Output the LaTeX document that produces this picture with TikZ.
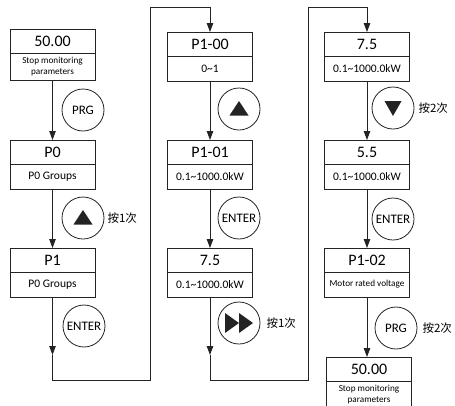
\documentclass[tikz,border=0pt]{standalone}
\usepackage{fontspec}
\setmainfont{Carlito}
\newfontfamily\cjk{Noto Sans CJK SC}
\usetikzlibrary{arrows.meta,positioning,calc}
\definecolor{inkgray}{RGB}{35,35,35}

\begin{document}
\begin{tikzpicture}[x=1pt,y=-1pt,
    val/.style={draw=inkgray,line width=0.9pt,minimum width=85pt,minimum height=24pt,
      inner sep=0pt,outer sep=0pt,font=\fontsize{16}{16}\selectfont},
    desc/.style={draw=inkgray,line width=0.9pt,minimum width=85pt,minimum height=25pt,
      inner sep=0pt,outer sep=0pt,align=center,font=\fontsize{11.5}{12}\selectfont},
    finetext/.style={font=\fontsize{9.2}{11}\selectfont},
    key/.style={circle,draw=inkgray,line width=0.8pt,minimum size=42pt,inner sep=0pt,
      font=\fontsize{13}{13}\selectfont},
    flow/.style={draw=inkgray,line width=0.8pt,-{Triangle[length=9pt,width=6.5pt]}},
    note/.style={font={\cjk\fontsize{11.5}{12}\selectfont},inner sep=0pt}]
  \useasboundingbox (0,0) rectangle (455,405);
  % column 1
  \node[val] (m1) at (52.5,41) {50.00};
  \node[desc,finetext,minimum height=27pt,below=0pt of m1] (m1d) {Stop monitoring\\parameters};
  \node[val] (p0) at (52.5,152) {P0};
  \node[desc,below=0pt of p0] (p0d) {P0 Groups};
  \node[val] (p1) at (52.5,260) {P1};
  \node[desc,below=0pt of p1] (p1d) {P0 Groups};
  \node[key] (k1) at (83,110) {PRG};
  \node[key] (k2) at (83,218) {};
  \node[note,right=3pt of k2] (n2) {按1次};
  \node[key] (k3) at (84,326) {ENTER};
  % column 2
  \node[val] (a0) at (210,44) {P1-00};
  \node[desc,below=0pt of a0] (a0d) {0\textasciitilde1};
  \node[val] (a1) at (210,152) {P1-01};
  \node[desc,below=0pt of a1] (a1d) {0.1\textasciitilde1000.0kW};
  \node[val] (a2) at (210,260) {7.5};
  \node[desc,below=0pt of a2] (a2d) {0.1\textasciitilde1000.0kW};
  \node[key] (k4) at (239,109) {};
  \node[key] (k5) at (239,218) {ENTER};
  \node[key] (k6) at (239,323) {};
  \node[note,right=6pt of k6] (n6) {按1次};
  % column 3
  \node[val] (b0) at (367,44) {7.5};
  \node[desc,below=0pt of b0] (b0d) {0.1\textasciitilde1000.0kW};
  \node[val] (b1) at (367,152) {5.5};
  \node[desc,below=0pt of b1] (b1d) {0.1\textasciitilde1000.0kW};
  \node[val] (b2) at (367,260) {P1-02};
  \node[desc,finetext,below=0pt of b2] (b2d) {Motor rated voltage};
  \node[val] (b3) at (369,369) {50.00};
  \node[desc,finetext,minimum height=27pt,below=0pt of b3] (b3d) {Stop monitoring\\parameters};
  \node[key] (k7) at (393,108) {};
  \node[note,right=4pt of k7] (n7) {按2次};
  \node[key] (k8) at (393,219) {ENTER};
  \node[key] (k9) at (396,328) {PRG};
  \node[note,right=5pt of k9] (n9) {按2次};
  % key glyphs
  \foreach \k in {k2,k4}
    \fill[inkgray] ($(\k)+(-9.5,6.5)$) -- ($(\k)+(9.5,6.5)$) -- ($(\k)+(0,-8)$) -- cycle;
  \fill[inkgray] ($(k7)+(-8.5,-7)$) -- ($(k7)+(8.5,-7)$) -- ($(k7)+(0,8)$) -- cycle;
  \foreach \s in {-14,0}
    \fill[inkgray] ($(k6)+(\s,-10)$) -- ($(k6)+(\s,10)$) -- ($(k6)+(\s+14,0)$) -- cycle;
  % arrows
  \draw[flow] (m1d.south) -- (p0.north);
  \draw[flow] (p0d.south) -- (p1.north);
  \draw[flow] (a0d.south) -- (a1.north);
  \draw[flow] (a1d.south) -- (a2.north);
  \draw[flow] (b0d.south) -- (b1.north);
  \draw[flow] (b1d.south) -- (b2.north);
  \draw[flow] (b2d.south) -- (b2d.south |- b3.north);
  % returns to the next column
  \coordinate (h1) at (52.5,355);
  \coordinate (j1) at (150,380);
  \coordinate (t1) at (150,7);
  \coordinate (h2) at (210,355);
  \coordinate (j2) at (308,380);
  \coordinate (t2) at (308,7);
  \draw[flow] (p1d.south) -- (h1);
  \draw[flow] (h1) |- (j1) -- (t1) -| (a0.north);
  \draw[flow] (a2d.south) -- (h2);
  \draw[flow] (h2) |- (j2) -- (t2) -| (b0.north);
\end{tikzpicture}
\end{document}
